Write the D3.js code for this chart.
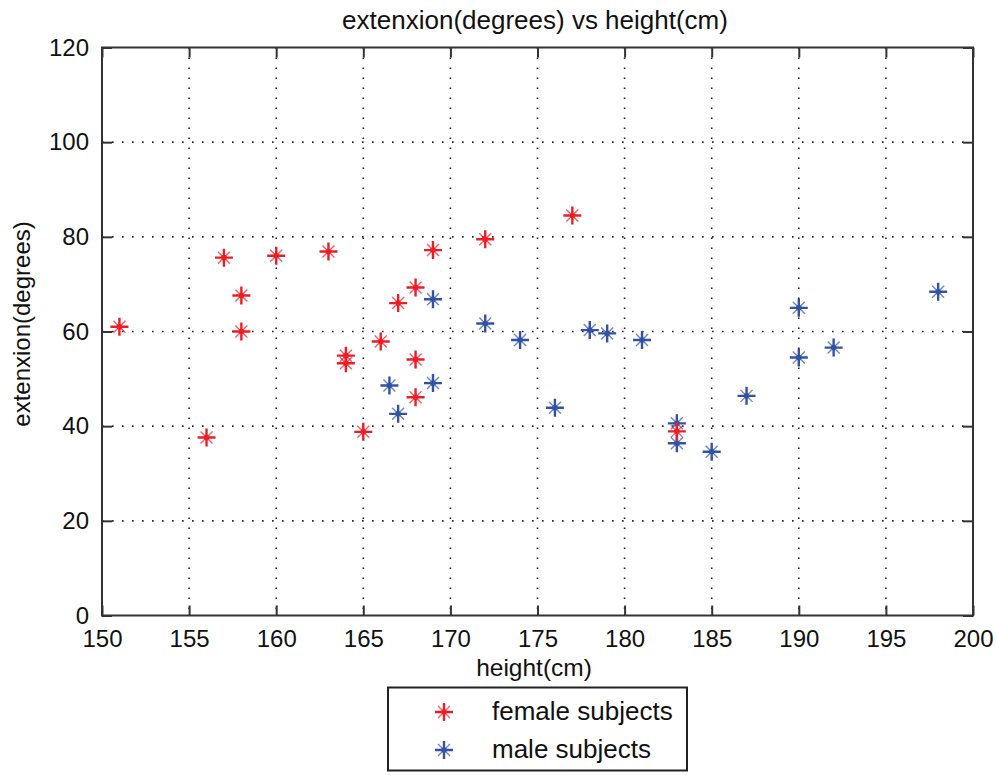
<!DOCTYPE html>
<html>
<head>
<meta charset="utf-8">
<script src="https://cdn.jsdelivr.net/npm/d3@7"></script>
<style>
  html, body { margin: 0; padding: 0; background: #fff; }
  svg { display: block; }
  text { font-family: "Liberation Sans", Arial, sans-serif; fill: #111; }
</style>
</head>
<body>
<svg id="chart" width="996" height="775"></svg>
<script>
// Heights (cm) and extension angles (degrees) for each group
const femaleHeight = [151, 156, 157, 158, 158, 160, 163, 164, 164, 165, 166, 167, 168, 168, 168, 169, 172, 177, 183];
const femaleExt    = [61, 37.6, 75.6, 67.6, 60, 76, 76.9, 54.9, 53.3, 38.8, 57.9, 66, 69.3, 54.1, 46.1, 77.2, 79.5, 84.5, 38.9];
const maleHeight   = [166.5, 167, 169, 169, 172, 174, 176, 178, 179, 181, 183, 183, 185, 187, 190, 190, 192, 198];
const maleExt      = [48.6, 42.6, 66.8, 49.1, 61.7, 58.2, 43.9, 60.3, 59.6, 58.2, 40.6, 36.4, 34.6, 46.4, 65, 54.5, 56.6, 68.4];

const xTicks = [150, 155, 160, 165, 170, 175, 180, 185, 190, 195, 200];
const yTicks = [0, 20, 40, 60, 80, 100, 120];

const seriesNames = ["female subjects", "male subjects"];
const seriesColors = ["#ee1d25", "#3352a6"];

const svg = d3.select("#chart");
const plotL = 102, plotR = 973, plotT = 47.5, plotB = 615.5;

const x = d3.scaleLinear().domain([150, 200]).range([plotL, plotR]);
const y = d3.scaleLinear().domain([0, 120]).range([plotB, plotT]);

// Dotted grid
const grid = svg.append("g");
grid.selectAll(".gx").data(xTicks.slice(1, -1)).enter().append("line")
  .attr("x1", d => x(d)).attr("x2", d => x(d))
  .attr("y1", plotT).attr("y2", plotB)
  .attr("stroke", "#222").attr("stroke-width", 1.6)
  .attr("stroke-dasharray", "1.6,8.4");
grid.selectAll(".gy").data(yTicks.slice(1, -1)).enter().append("line")
  .attr("y1", d => y(d)).attr("y2", d => y(d))
  .attr("x1", plotL).attr("x2", plotR)
  .attr("stroke", "#222").attr("stroke-width", 1.6)
  .attr("stroke-dasharray", "1.6,8.4");

// Axes with inward ticks on all four sides
const tickLen = 10;
const axisColor = "#333";
const axB = svg.append("g").attr("transform", `translate(0,${plotB})`)
  .call(d3.axisBottom(x).tickValues(xTicks).tickSizeInner(-tickLen).tickSizeOuter(0).tickPadding(14));
const axT = svg.append("g").attr("transform", `translate(0,${plotT})`)
  .call(d3.axisTop(x).tickValues(xTicks).tickSizeInner(-tickLen).tickSizeOuter(0).tickFormat(""));
const axL = svg.append("g").attr("transform", `translate(${plotL},0)`)
  .call(d3.axisLeft(y).tickValues(yTicks).tickSizeInner(-tickLen).tickSizeOuter(0).tickPadding(13));
const axR = svg.append("g").attr("transform", `translate(${plotR},0)`)
  .call(d3.axisRight(y).tickValues(yTicks).tickSizeInner(-tickLen).tickSizeOuter(0).tickFormat(""));

[axB, axT, axL, axR].forEach(g => {
  g.select(".domain").remove();
  g.selectAll(".tick line").attr("stroke", axisColor).attr("stroke-width", 2);
  g.selectAll(".tick text").attr("font-size", 24).attr("fill", "#111")
    .attr("font-family", "'Liberation Sans', Arial, sans-serif");
});
axB.selectAll(".tick text").attr("dy", "0.71em");

// Frame
svg.append("rect")
  .attr("x", plotL).attr("y", plotT)
  .attr("width", plotR - plotL).attr("height", plotB - plotT)
  .attr("fill", "none").attr("stroke", axisColor).attr("stroke-width", 2);

// Star marker: plus with short diagonals
function star(g, cx, cy, color) {
  const m = g.append("g").attr("transform", `translate(${cx},${cy})`);
  m.append("path").attr("d", "M-9,0H9M0,-9V9")
    .attr("stroke", color).attr("stroke-width", 2.4).attr("fill", "none");
  m.append("path").attr("d", "M-6,-6L6,6M-6,6L6,-6")
    .attr("stroke", color).attr("stroke-width", 1.4).attr("stroke-opacity", 0.7)
    .attr("fill", "none");
  m.append("circle").attr("r", 2.8).attr("fill", color);
}

const pts = svg.append("g");
maleHeight.forEach((h, i) => star(pts, x(h), y(maleExt[i]), seriesColors[1]));
femaleHeight.forEach((h, i) => star(pts, x(h), y(femaleExt[i]), seriesColors[0]));

// Titles
svg.append("text").attr("x", 535).attr("y", 29).attr("text-anchor", "middle")
  .attr("font-size", 26).text("extenxion(degrees) vs height(cm)");
svg.append("text").attr("x", 534).attr("y", 676).attr("text-anchor", "middle")
  .attr("font-size", 24.5).text("height(cm)");
svg.append("text").attr("transform", "translate(30,324) rotate(-90)").attr("text-anchor", "middle")
  .attr("font-size", 24).text("extenxion(degrees)");

// Legend
const leg = svg.append("g");
leg.append("rect").attr("x", 388).attr("y", 687.5).attr("width", 299).attr("height", 83)
  .attr("fill", "#fff").attr("stroke", "#222").attr("stroke-width", 2);
seriesNames.forEach((name, i) => {
  const ly = 712 + i * 38;
  star(leg, 444, ly, seriesColors[i]);
  leg.append("text").attr("x", 492).attr("y", ly + 8).attr("font-size", 26).text(name);
});
</script>
</body>
</html>
